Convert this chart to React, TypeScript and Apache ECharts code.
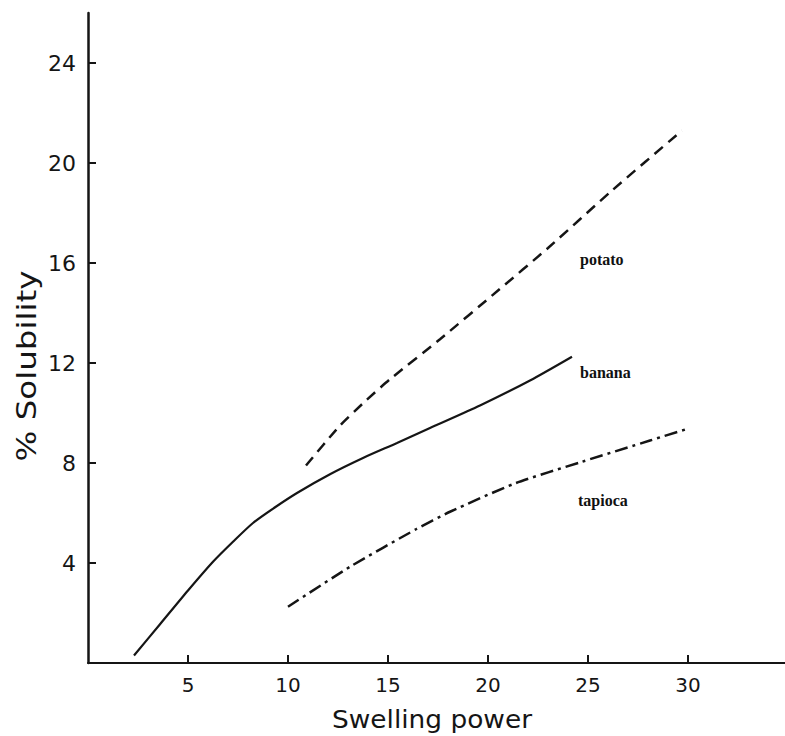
import React, { useEffect, useRef } from "react";
import * as echarts from "echarts";

const xTicks = [5, 10, 15, 20, 25, 30];
const yTicks = [4, 8, 12, 16, 20, 24];

const banana: [number, number][] = [
  [2.3, 0.3], [3.6, 1.55], [5.0, 2.9], [6.25, 4.05], [7.25, 4.85], [8.25, 5.6],
  [9.3, 6.2], [10.45, 6.8], [12.1, 7.55], [13.75, 8.2], [15.45, 8.8], [17.1, 9.4],
  [19.6, 10.3], [22.1, 11.3], [24.2, 12.25],
];
const potato: [number, number][] = [
  [10.9, 7.9], [12.6, 9.5], [13.9, 10.5], [15.1, 11.35], [17.6, 12.95],
  [20.5, 14.9], [23.0, 16.6], [26.2, 18.9], [29.7, 21.3],
];
const tapioca: [number, number][] = [
  [10.0, 2.25], [13.1, 3.85], [16.4, 5.35], [18.1, 6.05], [21.4, 7.2],
  [24.7, 8.05], [28.1, 8.9], [29.9, 9.35],
];

const seriesNames = ["potato", "banana", "tapioca"];

export default function App() {
  const ref = useRef<HTMLDivElement>(null);
  useEffect(() => {
    if (!ref.current) return;
    const chart = echarts.init(ref.current, undefined, { renderer: "svg" });
    const ink = "#151515";
    const labelFont = { fontFamily: "DejaVu Sans", fontSize: 22, color: ink };
    const seriesLabelStyle = {
      fontFamily: "Liberation Serif",
      fontWeight: "bold" as const,
      fontSize: 16,
      fill: "#111",
    };
    chart.setOption({
      animation: false,
      backgroundColor: "#ffffff",
      grid: { left: 88, right: 0, top: 13, bottom: 73, containLabel: false },
      xAxis: {
        type: "value",
        min: 0,
        max: 34.85,
        interval: 5,
        splitLine: { show: false },
        axisLine: { show: true, onZero: false, lineStyle: { color: ink, width: 2 } },
        axisTick: { show: true, inside: true, length: 8, lineStyle: { color: ink, width: 2 } },
        axisLabel: {
          ...labelFont,
          fontSize: 20,
          margin: 12,
          showMinLabel: false,
          showMaxLabel: false,
          formatter: (v: number) => (xTicks.indexOf(v) >= 0 ? String(v) : ""),
        },
      },
      yAxis: {
        type: "value",
        min: 0,
        max: 26,
        interval: 4,
        splitLine: { show: false },
        axisLine: { show: true, onZero: false, lineStyle: { color: ink, width: 2.5 } },
        axisTick: { show: true, inside: true, length: 8, lineStyle: { color: ink, width: 2 } },
        axisLabel: {
          ...labelFont,
          margin: 12,
          showMinLabel: false,
          showMaxLabel: false,
          formatter: (v: number) => (yTicks.indexOf(v) >= 0 ? String(v) : ""),
        },
      },
      series: [
        {
          name: seriesNames[0],
          type: "line",
          data: potato,
          smooth: 0.2,
          showSymbol: false,
          lineStyle: { color: ink, width: 2.5, type: [11, 7] },
        },
        {
          name: seriesNames[1],
          type: "line",
          data: banana,
          smooth: 0.25,
          showSymbol: false,
          lineStyle: { color: ink, width: 2.2, type: "solid" },
        },
        {
          name: seriesNames[2],
          type: "line",
          data: tapioca,
          smooth: 0.2,
          showSymbol: false,
          lineStyle: { color: ink, width: 2.5, type: [13, 5, 3, 5] },
        },
      ],
      graphic: [
        { type: "text", left: 580, top: 251, style: { ...seriesLabelStyle, text: seriesNames[0] } },
        { type: "text", left: 580, top: 364, style: { ...seriesLabelStyle, text: seriesNames[1] } },
        { type: "text", left: 578, top: 492, style: { ...seriesLabelStyle, text: seriesNames[2] } },
        {
          type: "text",
          x: 27,
          y: 366,
          rotation: Math.PI / 2,
          scaleX: 1.25,
          style: {
            text: "% Solubility",
            fontFamily: "DejaVu Sans",
            fontSize: 26,
            fill: ink,
            align: "center",
            verticalAlign: "middle",
          },
        },
        {
          type: "text",
          x: 432,
          y: 720,
          scaleX: 1.1,
          style: {
            text: "Swelling power",
            fontFamily: "DejaVu Sans",
            fontSize: 24,
            fill: ink,
            align: "center",
            verticalAlign: "middle",
          },
        },
      ],
    });
    return () => chart.dispose();
  }, []);
  return (
    <div
      ref={ref}
      style={{ position: "absolute", left: 0, top: 0, width: 785, height: 736, background: "#fff" }}
    />
  );
}
